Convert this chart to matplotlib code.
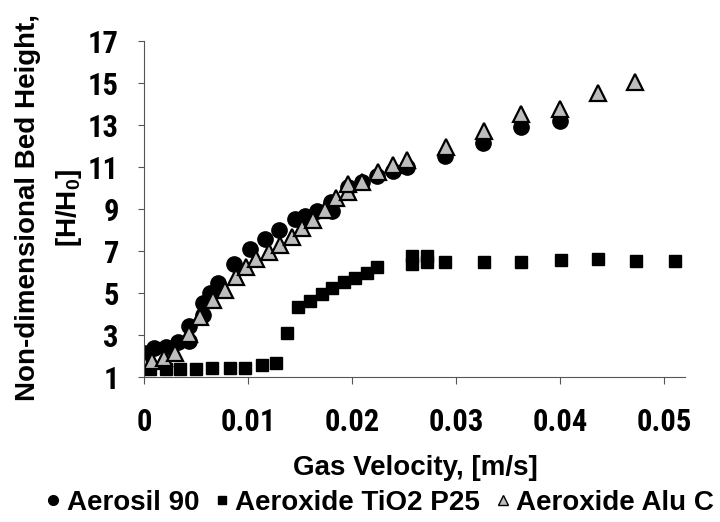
import matplotlib.pyplot as plt
from matplotlib.lines import Line2D

plt.rcParams['font.family'] = ['Liberation Sans', 'DejaVu Sans']
plt.rcParams['font.weight'] = 'bold'
plt.rcParams['mathtext.fontset'] = 'custom'
plt.rcParams['mathtext.rm'] = 'Liberation Sans:bold'
plt.rcParams['mathtext.bf'] = 'Liberation Sans:bold'

# Aerosil 90
aerosil_v = [0.0, 0.00096, 0.0021, 0.0033, 0.0043, 0.0043, 0.0057, 0.0057, 0.0063,
             0.0071, 0.0087, 0.0102, 0.0116, 0.0130, 0.0145, 0.0155, 0.0166, 0.0180,
             0.0181, 0.0196, 0.0210, 0.0224, 0.0239, 0.0253, 0.0289, 0.0326, 0.0363,
             0.0400]
aerosil_h = [2.13, 2.37, 2.44, 2.68, 2.73, 3.43, 3.95, 4.54, 5.01,
             5.46, 6.37, 7.11, 7.57, 8.0, 8.51, 8.67, 8.92, 9.35,
             8.90, 10.06, 10.3, 10.57, 10.81, 11.01, 11.52, 12.16, 12.89,
             13.2]

# Aeroxide TiO2 P25
tio2_v = [0.0, 0.0006, 0.0021, 0.0035, 0.0050, 0.0065, 0.0083, 0.0097, 0.0113,
          0.0127, 0.0138, 0.0148, 0.0160, 0.0171, 0.0181, 0.0192, 0.0203, 0.0214,
          0.0224, 0.0258, 0.0258, 0.0272, 0.0272, 0.0289, 0.0327, 0.0363, 0.0401,
          0.0437, 0.0473, 0.0511]
tio2_h = [1.41, 1.37, 1.37, 1.37, 1.37, 1.44, 1.44, 1.44, 1.57,
          1.65, 3.11, 4.31, 4.62, 4.95, 5.22, 5.54, 5.70, 5.94,
          6.22, 6.40, 6.75, 6.45, 6.75, 6.49, 6.49, 6.49, 6.57,
          6.62, 6.54, 6.54]

# Aeroxide Alu C
alu_v = [0.0, 0.00074, 0.0019, 0.0030, 0.0043, 0.0054, 0.0066, 0.0078, 0.0088,
         0.0098, 0.0108, 0.0120, 0.0131, 0.0142, 0.0152, 0.0163, 0.0174, 0.0185,
         0.0196, 0.0196, 0.0210, 0.0225, 0.0239, 0.0253, 0.0290, 0.0327, 0.0363,
         0.0400, 0.0437, 0.0472]
alu_h = [1.65, 1.78, 1.92, 2.13, 3.03, 3.87, 4.67, 5.14, 5.78,
         6.25, 6.60, 6.97, 7.29, 7.68, 8.11, 8.48, 8.95, 9.50,
         9.82, 10.19, 10.3, 10.78, 11.1, 11.33, 11.94, 12.73, 13.51,
         13.74, 14.54, 15.03]

x_ticks = [0, 0.01, 0.02, 0.03, 0.04, 0.05]
x_tick_labels = ['0', '0.01', '0.02', '0.03', '0.04', '0.05']
y_ticks = [1, 3, 5, 7, 9, 11, 13, 15, 17]

fig = plt.figure(figsize=(7.2, 5.22), dpi=100)
ax = fig.add_axes([0.2, 0.278, 0.751, 0.6435])

ax.plot(aerosil_v, aerosil_h, 'o', color='black', markersize=11, linestyle='none')
ax.plot(tio2_v, tio2_h, 's', color='black', markersize=8, linestyle='none')
ax.plot(alu_v, alu_h, '^', markerfacecolor='#bdbdbd', markeredgecolor='black',
        markeredgewidth=1.6, markersize=11, linestyle='none')

ax.set_xlim(0, 0.052)
ax.set_ylim(1, 17)
ax.set_xticks(x_ticks)
ax.set_xticklabels(x_tick_labels)
ax.set_yticks(y_ticks)

for side in ['top', 'right']:
    ax.spines[side].set_visible(False)
for side in ['left', 'bottom']:
    ax.spines[side].set_color('#555555')
    ax.spines[side].set_linewidth(0.8)

# narrow bold digits on both axes
tick_font = {'family': 'Roboto Condensed', 'weight': 'bold', 'size': 22}
ax.tick_params(axis='x', length=5, width=0.8, color='#555555', pad=17)
ax.tick_params(axis='y', length=4, width=0.8, color='#555555', pad=14)
for lab in ax.get_xticklabels() + ax.get_yticklabels():
    lab.set_fontproperties(tick_font)

ax.set_xlabel('Gas Velocity, [m/s]', fontsize=20, fontweight='bold')
ax.xaxis.set_label_coords(0.502, -0.232)
ax.set_ylabel('Non-dimensional Bed Height,\n[H/H$_0$]', fontsize=20,
              fontweight='bold', linespacing=1.6)
ax.yaxis.set_label_coords(-0.111, 0.505)

handles = [
    Line2D([], [], marker='o', color='black', linestyle='none', markersize=7),
    Line2D([], [], marker='s', color='black', linestyle='none', markersize=5.5),
    Line2D([], [], marker='^', markerfacecolor='#bdbdbd', markeredgecolor='black',
           markeredgewidth=1, linestyle='none', markersize=7.5),
]
fig.legend(handles, ['Aerosil 90', 'Aeroxide TiO2 P25', 'Aeroxide Alu C'],
           loc='center', bbox_to_anchor=(0.527, 0.036), ncol=3, frameon=False,
           fontsize=20, handletextpad=0.2, columnspacing=0.5, handlelength=0.6,
           borderpad=0, borderaxespad=0)

fig.savefig('out.png', dpi=100)
